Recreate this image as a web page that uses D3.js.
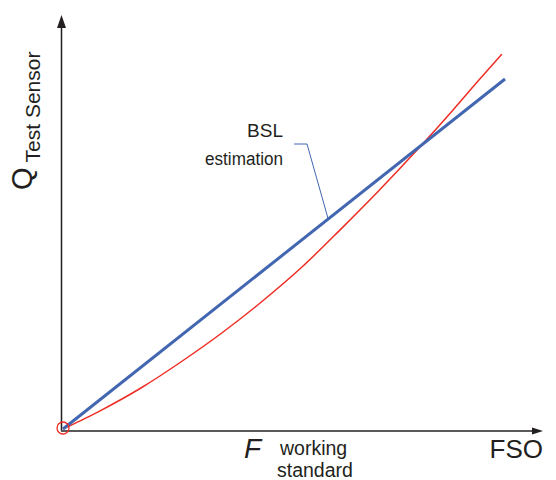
<!DOCTYPE html>
<html>
<head>
<meta charset="utf-8">
<script src="https://cdn.jsdelivr.net/npm/d3@7"></script>
<style>
body { margin: 0; background: #fff; }
text { font-family: Arial, "Liberation Sans", sans-serif; fill: #231f20; }
</style>
</head>
<body>
<svg width="556" height="480"></svg>
<script>
// F / FSO on x, Q on y, both as fraction of full scale
var bsl_x = [0, 1]
var bsl_y = [0, 1]
var sensor_x = [0, 0.04, 0.084, 0.18, 0.265, 0.36, 0.446, 0.54, 0.627, 0.71, 0.801, 0.882, 0.943, 0.993]
var sensor_y = [0, 0.024, 0.052, 0.12, 0.19, 0.275, 0.36, 0.462, 0.569, 0.675, 0.797, 0.911, 1.0, 1.071]
var axis_end_x = 1.086
var axis_end_y = 1.183

var svg = d3.select('svg')
var x = d3.scaleLinear().domain([0, 1]).range([63, 505])
var y = d3.scaleLinear().domain([0, 1]).range([429, 79])

var axes = svg.append('g')
// y axis
axes.append('line')
    .attr('x1', 61.5).attr('x2', 61.5)
    .attr('y1', y(0) + 2).attr('y2', y(axis_end_y) + 10)
    .attr('stroke', '#231f20')
    .attr('stroke-width', 1.5)
axes.append('path')
    .attr('d', 'M' + 61.5 + ',' + y(axis_end_y) + ' l-4.5,13 l9,0 z')
    .attr('fill', '#231f20')
// x axis
axes.append('line')
    .attr('x1', 61).attr('x2', x(axis_end_x) - 8)
    .attr('y1', 431).attr('y2', 431)
    .attr('stroke', '#595959')
    .attr('stroke-width', 2)
axes.append('path')
    .attr('d', 'M' + x(axis_end_x) + ',431 l-11,-3.5 l0,7 z')
    .attr('fill', '#231f20')

var line = d3.line()
    .x(function(d){ return x(d[0]) })
    .y(function(d){ return y(d[1]) })

svg.append('path')
    .datum(d3.zip(sensor_x, sensor_y))
    .attr('d', line.curve(d3.curveMonotoneX))
    .attr('fill', 'none')
    .attr('stroke', '#ee2d24')
    .attr('stroke-width', 1.5)

svg.append('path')
    .datum(d3.zip(bsl_x, bsl_y))
    .attr('d', line.curve(d3.curveLinear))
    .attr('fill', 'none')
    .attr('stroke', '#4266b0')
    .attr('stroke-width', 3)

svg.append('circle')
    .attr('cx', x(0)).attr('cy', y(0) - 1)
    .attr('r', 6)
    .attr('fill', 'none')
    .attr('stroke', '#ee2d24')
    .attr('stroke-width', 1.3)

// BSL label with leader
var lead_u = 0.600
svg.append('path')
    .attr('d', 'M294,144 L307,144 L' + x(lead_u) + ',' + y(lead_u))
    .attr('fill', 'none')
    .attr('stroke', '#4266b0')
    .attr('stroke-width', 1)
svg.append('text')
    .attr('x', 283).attr('y', 137)
    .attr('text-anchor', 'end')
    .attr('font-size', 19)
    .text('BSL')
svg.append('text')
    .attr('x', 205).attr('y', 165)
    .attr('font-size', 18)
    .attr('textLength', 78)
    .attr('lengthAdjust', 'spacingAndGlyphs')
    .text('estimation')

// y label
var ylab = svg.append('text')
    .attr('transform', 'translate(32,190) rotate(-90)')
ylab.append('tspan').attr('font-size', 29).text('Q')
ylab.append('tspan').attr('font-size', 21).attr('dx', 5).attr('dy', 8).text('Test Sensor')

// x labels
svg.append('text')
    .attr('x', 244).attr('y', 458)
    .attr('font-size', 28)
    .attr('font-style', 'italic')
    .text('F')
svg.append('text')
    .attr('x', 280).attr('y', 455)
    .attr('font-size', 19.5)
    .text('working')
svg.append('text')
    .attr('x', 277).attr('y', 477)
    .attr('font-size', 19.5)
    .text('standard')
svg.append('text')
    .attr('x', 543).attr('y', 458)
    .attr('text-anchor', 'end')
    .attr('font-size', 26)
    .text('FSO')
</script>
</body>
</html>
